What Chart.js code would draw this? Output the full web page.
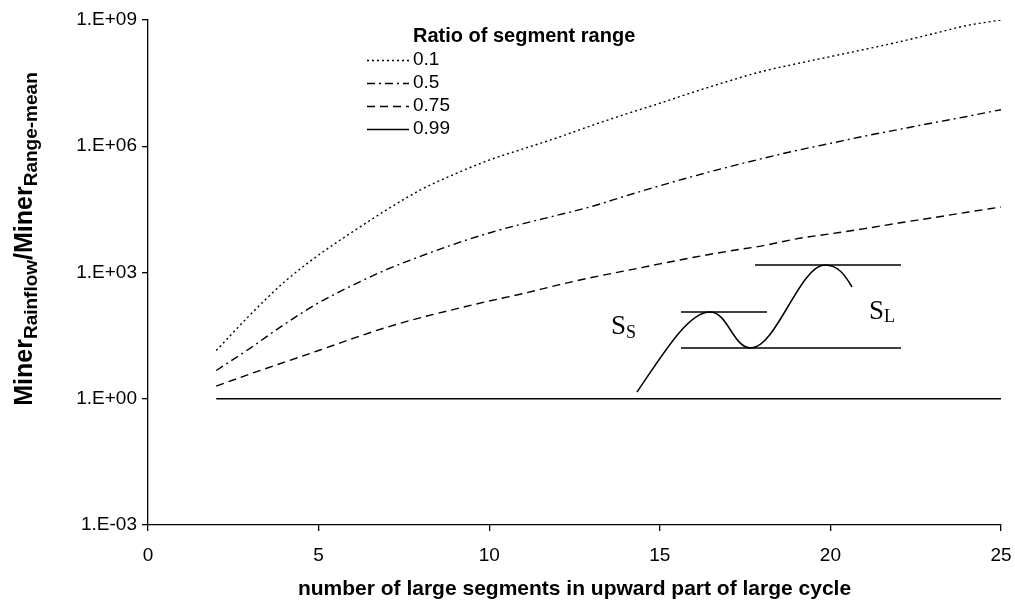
<!DOCTYPE html>
<html>
<head>
<meta charset="utf-8">
<script src="https://cdn.jsdelivr.net/npm/chart.js@4.4.1/dist/chart.umd.min.js"></script>
<style>
  html, body { margin: 0; padding: 0; background: #fff; }
  #wrap { width: 1015px; height: 604px; }
</style>
</head>
<body>
<div id="wrap"><canvas id="c" width="1015" height="604"></canvas></div>
<script>
// number of large segments in the upward part of the large cycle
const segments = [2, 3, 4, 5, 6, 7, 8, 9, 10, 11, 12, 13, 14, 15, 16, 17, 18, 19, 20, 21, 22, 23, 24, 25];

// Miner(Rainflow) / Miner(Range-mean) for each ratio of segment range
const ratio01 = [1.4e1, 1.0e2, 6.0e2, 2.6e3, 9.3e3, 3.1e4, 9.3e4, 2.2e5, 4.7e5, 8.7e5, 1.6e6, 3.1e6,
                 5.8e6, 1.05e7, 1.95e7, 3.5e7, 6.0e7, 9.1e7, 1.35e8, 2.0e8, 3.0e8, 4.7e8, 7.4e8, 1.0e9];
const ratio05 = [4.7, 16, 59, 190, 500, 1.18e3, 2.45e3, 4.8e3, 8.7e3, 1.45e4, 2.3e4, 3.7e4,
                 6.6e4, 1.15e5, 1.95e5, 3.2e5, 5.1e5, 7.9e5, 1.17e6, 1.74e6, 2.5e6, 3.6e6, 5.1e6, 7.4e6];
const ratio075 = [2.0, 3.9, 7.4, 14, 27, 50, 85, 135, 210, 316, 500, 760,
                  1.1e3, 1.6e3, 2.3e3, 3.2e3, 4.3e3, 6.3e3, 8.3e3, 1.1e4, 1.5e4, 2.0e4, 2.7e4, 3.6e4];
const ratio099 = [1, 1, 1, 1, 1, 1, 1, 1, 1, 1, 1, 1,
                  1, 1, 1, 1, 1, 1, 1, 1, 1, 1, 1, 1];

const seriesNames = ['0.1', '0.5', '0.75', '0.99'];
const legendTitle = 'Ratio of segment range';

const xTickValues = [0, 5, 10, 15, 20, 25];
const yTickValues = [1e-3, 1e0, 1e3, 1e6, 1e9];
const yTickLabels = ['1.E-03', '1.E+00', '1.E+03', '1.E+06', '1.E+09'];

const xTitle = 'number of large segments in upward part of large cycle';

const SANS = "'Liberation Sans', Arial, Helvetica, sans-serif";
const SERIF = "'Liberation Serif', 'Times New Roman', serif";
Chart.defaults.font.family = SANS;
Chart.defaults.color = '#000';

const dashes = [[2, 3], [8, 4, 2, 4], [8, 5], []];
const seriesValues = [ratio01, ratio05, ratio075, ratio099];

const datasets = seriesValues.map((vals, i) => ({
  label: seriesNames[i],
  data: segments.map((x, k) => ({ x: x, y: vals[k] })),
  borderColor: '#000',
  borderWidth: 1.4,
  borderDash: dashes[i],
  pointRadius: 0,
  fill: false,
  cubicInterpolationMode: 'monotone'
}));

// rotated y-axis title with subscripts
const yTitlePlugin = {
  id: 'yTitle',
  afterDraw(chart) {
    const ctx = chart.ctx;
    const parts = [
      { t: 'Miner', sub: false },
      { t: 'Rainflow', sub: true },
      { t: '/Miner', sub: false },
      { t: 'Range-mean', sub: true }
    ];
    const big = 'bold 25px ' + SANS;
    const small = 'bold 19px ' + SANS;
    ctx.save();
    let total = 0;
    parts.forEach(p => { ctx.font = p.sub ? small : big; p.w = ctx.measureText(p.t).width; total += p.w; });
    ctx.translate(32, 239);
    ctx.rotate(-Math.PI / 2);
    ctx.fillStyle = '#000';
    ctx.textBaseline = 'alphabetic';
    ctx.textAlign = 'left';
    let x = -total / 2;
    parts.forEach(p => {
      ctx.font = p.sub ? small : big;
      ctx.fillText(p.t, x, p.sub ? 5 : 0);
      x += p.w;
    });
    ctx.restore();
  }
};

// legend with title, line samples and labels
const legendPlugin = {
  id: 'ratioLegend',
  afterDraw(chart) {
    const ctx = chart.ctx;
    const left = 413, titleY = 36, rowY = 60, rowGap = 23, lineX0 = 367, lineX1 = 409;
    ctx.save();
    ctx.fillStyle = '#000';
    ctx.textBaseline = 'middle';
    ctx.textAlign = 'left';
    ctx.font = 'bold 20px ' + SANS;
    ctx.fillText(legendTitle, left, titleY);
    ctx.font = '19px ' + SANS;
    chart.data.datasets.forEach((ds, i) => {
      const y = rowY + i * rowGap;
      ctx.strokeStyle = '#000';
      ctx.lineWidth = ds.borderWidth;
      ctx.setLineDash(ds.borderDash);
      ctx.beginPath();
      ctx.moveTo(lineX0, y + 0.5);
      ctx.lineTo(lineX1, y + 0.5);
      ctx.stroke();
      ctx.setLineDash([]);
      ctx.fillText(ds.label, left, y);
    });
    ctx.restore();
  }
};

// sketch of small (S_S) and large (S_L) segments
const sketchPlugin = {
  id: 'segmentSketch',
  afterDraw(chart) {
    const ctx = chart.ctx;
    const a = chart.chartArea;
    ctx.save();
    ctx.translate(a.left, a.top);   // sketch coordinates are relative to the plot area
    ctx.strokeStyle = '#000';
    ctx.lineWidth = 1.5;
    ctx.beginPath();
    ctx.moveTo(607, 245); ctx.lineTo(753, 245);   // large peak level
    ctx.moveTo(533, 292); ctx.lineTo(619, 292);   // small peak level
    ctx.moveTo(533, 328); ctx.lineTo(753, 328);   // valley level
    ctx.stroke();
    ctx.beginPath();
    ctx.moveTo(489, 372);
    ctx.bezierCurveTo(515, 334, 540, 292, 562, 292);
    ctx.bezierCurveTo(580, 292, 585, 328, 603, 328);
    ctx.bezierCurveTo(628, 328, 652, 245, 677, 245);
    ctx.bezierCurveTo(690, 245, 697, 255, 704, 267);
    ctx.stroke();
    ctx.fillStyle = '#000';
    ctx.textBaseline = 'alphabetic';
    ctx.textAlign = 'left';
    ctx.font = '27px ' + SERIF;
    ctx.fillText('S', 463, 314);
    ctx.fillText('S', 721, 299);
    ctx.font = '18px ' + SERIF;
    ctx.fillText('S', 478, 318);
    ctx.fillText('L', 736, 302);
    ctx.restore();
  }
};

new Chart(document.getElementById('c').getContext('2d'), {
  type: 'line',
  data: { datasets: datasets },
  options: {
    responsive: false,
    animation: false,
    devicePixelRatio: 1,
    layout: { padding: { left: 0, top: 20, right: 14, bottom: 0 } },
    plugins: { legend: { display: false }, tooltip: { enabled: false } },
    scales: {
      x: {
        type: 'linear',
        min: 0,
        max: 25,
        afterBuildTicks: s => { s.ticks = xTickValues.map(v => ({ value: v })); },
        afterFit: s => { s.height = 79; s.paddingLeft = 0; s.paddingRight = 12; },
        border: { color: '#000', width: 1.3 },
        grid: { drawOnChartArea: false, drawTicks: true, tickLength: 6, color: '#000', lineWidth: 1.3 },
        ticks: { font: { size: 19 }, padding: 13, maxRotation: 0, callback: v => String(v) },
        title: { display: true, text: xTitle, font: { size: 21, weight: 'bold' }, padding: { top: 0, bottom: 2 } }
      },
      y: {
        type: 'logarithmic',
        min: 1e-3,
        max: 1e9,
        afterBuildTicks: s => { s.ticks = yTickValues.map(v => ({ value: v })); },
        afterFit: s => { s.width = 148; },
        border: { color: '#000', width: 1.3 },
        grid: { drawOnChartArea: false, drawTicks: true, tickLength: 6, color: '#000', lineWidth: 1.3 },
        ticks: { font: { size: 19 }, padding: 5, callback: (v, i) => yTickLabels[i] }
      }
    }
  },
  plugins: [yTitlePlugin, legendPlugin, sketchPlugin]
});
</script>
</body>
</html>
